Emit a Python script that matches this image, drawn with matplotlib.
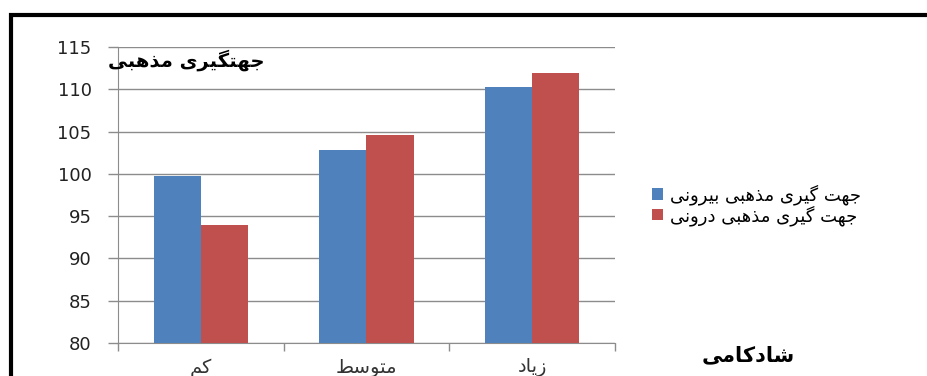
import numpy as np
import matplotlib
matplotlib.use("Agg")
import matplotlib.pyplot as plt
from matplotlib.patches import Rectangle

# chart data
categories = ["کم", "متوسط", "زیاد"]
outer_vals = [99.8, 102.8, 110.3]   # جهت گیری مذهبی بیرونی
inner_vals = [94.0, 104.6, 111.9]   # جهت گیری مذهبی درونی
series_names = ["جهت گیری مذهبی بیرونی", "جهت گیری مذهبی درونی"]
y_title = "جهتگیری مذهبی"
x_title = "شادکامی"
y_ticks = [80, 85, 90, 95, 100, 105, 110, 115]

# matplotlib has no arabic shaping, so map letters to presentation forms
# (isolated, final, initial, medial); None -> letter only joins to the right
FORMS = {
    "ا": ("\uFE8D", "\uFE8E", None, None),
    "ب": ("\uFE8F", "\uFE90", "\uFE91", "\uFE92"),
    "ت": ("\uFE95", "\uFE96", "\uFE97", "\uFE98"),
    "ج": ("\uFE9D", "\uFE9E", "\uFE9F", "\uFEA0"),
    "د": ("\uFEA9", "\uFEAA", None, None),
    "ذ": ("\uFEAB", "\uFEAC", None, None),
    "ر": ("\uFEAD", "\uFEAE", None, None),
    "ز": ("\uFEAF", "\uFEB0", None, None),
    "س": ("\uFEB1", "\uFEB2", "\uFEB3", "\uFEB4"),
    "ش": ("\uFEB5", "\uFEB6", "\uFEB7", "\uFEB8"),
    "ط": ("\uFEC1", "\uFEC2", "\uFEC3", "\uFEC4"),
    "م": ("\uFEE1", "\uFEE2", "\uFEE3", "\uFEE4"),
    "ن": ("\uFEE5", "\uFEE6", "\uFEE7", "\uFEE8"),
    "ه": ("\uFEE9", "\uFEEA", "\uFEEB", "\uFEEC"),
    "و": ("\uFEED", "\uFEEE", None, None),
    "ک": ("\uFB8E", "\uFB8F", "\uFB90", "\uFB91"),
    "گ": ("\uFB92", "\uFB93", "\uFB94", "\uFB95"),
    "ی": ("\uFBFC", "\uFBFD", "\uFBFE", "\uFBFF"),
}


def fa(text):
    out = []
    for i, c in enumerate(text):
        if c not in FORMS:
            out.append(c)
            continue
        prev = text[i - 1] if i > 0 else None
        nxt = text[i + 1] if i + 1 < len(text) else None
        join_prev = prev in FORMS and FORMS[prev][2] is not None
        join_next = nxt in FORMS and FORMS[c][2] is not None
        iso, fin, ini, med = FORMS[c]
        if join_prev and join_next:
            out.append(med)
        elif join_prev:
            out.append(fin)
        elif join_next:
            out.append(ini)
        else:
            out.append(iso)
    return "".join(reversed(out))


plt.rcParams["font.family"] = ["DejaVu Sans"]

W, H = 928, 376
fig = plt.figure(figsize=(W / 100, H / 100), dpi=100)
fig.patch.set_facecolor("white")

# thick black frame (runs off the right and bottom edge)
fig.patches.append(Rectangle((11 / W, -0.1), 1.1, 1 - 15 / H + 0.1, transform=fig.transFigure,
                             fill=False, edgecolor="black", linewidth=3.0, zorder=0))

ax = fig.add_axes([118 / W, 1 - 343 / H, 497 / W, 296 / H])

x = np.arange(len(categories))
w = 0.285
ax.bar(x - w / 2, outer_vals, w, color="#4F81BD", label=fa(series_names[0]), zorder=3)
ax.bar(x + w / 2, inner_vals, w, color="#C0504D", label=fa(series_names[1]), zorder=3)

ax.set_xlim(-0.5, len(categories) - 0.5)
ax.set_ylim(80, 115)
ax.set_yticks(y_ticks)
ax.yaxis.grid(True, color="#8C8C8C", linewidth=1.0, zorder=0)
ax.set_axisbelow(True)

ax.set_xticks(x)
ax.set_xticklabels([fa(c) for c in categories], fontsize=14, color="#333333")
ax.set_xticks(np.arange(len(categories) + 1) - 0.5, minor=True)
ax.tick_params(axis="x", which="major", length=0, pad=11)
ax.tick_params(axis="x", which="minor", length=6, color="#8C8C8C", width=1)
ax.tick_params(axis="y", length=7, color="#8C8C8C", width=1, pad=12,
               labelsize=13, labelcolor="#222222")

for s in ["top", "right"]:
    ax.spines[s].set_visible(False)
ax.spines["left"].set_color("#8C8C8C")
ax.spines["bottom"].set_color("#8C8C8C")

fig.text(265 / W, 1 - 60 / H, fa(y_title), ha="right", va="center",
         fontsize=14, fontweight="bold")
fig.text(795 / W, 1 - 355 / H, fa(x_title), ha="right", va="center",
         fontsize=15, fontweight="bold")

leg = ax.legend(loc="center left", bbox_to_anchor=(636 / W, 1 - 205 / H),
                bbox_transform=fig.transFigure, frameon=False, fontsize=13,
                handlelength=0.6, handleheight=0.6, handletextpad=0.4,
                labelspacing=0.0)

fig.savefig("out.png", dpi=100)
